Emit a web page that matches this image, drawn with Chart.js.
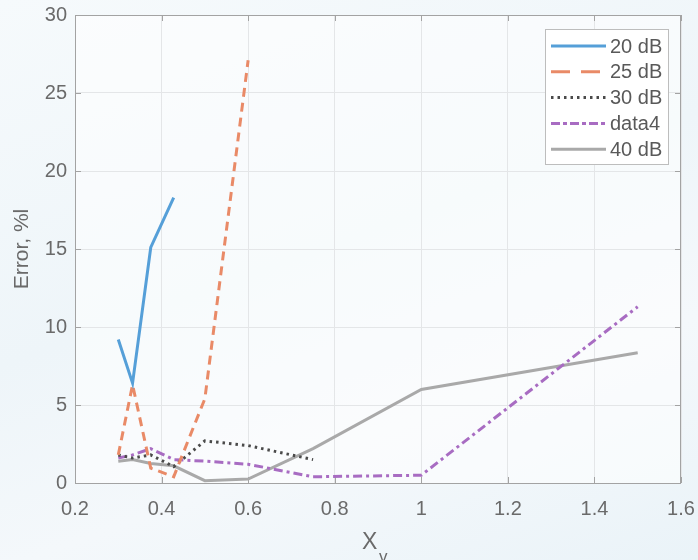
<!DOCTYPE html>
<html>
<head>
<meta charset="utf-8">
<script src="https://cdn.jsdelivr.net/npm/chart.js@4/dist/chart.umd.min.js"></script>
<style>
html, body { margin: 0; padding: 0; }
body {
    width: 698px; height: 560px; overflow: hidden;
    background: linear-gradient(160deg, #f6fafc 0%, #eef5f9 45%, #f4f8fb 70%, #eaf3f8 100%);
}
#wrap { position: relative; width: 698px; height: 560px; }
</style>
</head>
<body>
<div id="wrap"><canvas id="errchart" width="698" height="560"></canvas></div>
<script>
// values
var x20 = [0.3, 0.333, 0.375, 0.428];
var y20 = [9.2, 6.4, 15.1, 18.3];

var x25 = [0.3, 0.333, 0.375, 0.428, 0.5, 0.6];
var y25 = [1.8, 6.3, 0.95, 0.4, 5.4, 27.1];

var x30 = [0.3, 0.333, 0.375, 0.428, 0.5, 0.6, 0.75];
var y30 = [1.8, 1.6, 1.8, 1.05, 2.7, 2.4, 1.5];

var xData4 = [0.3, 0.333, 0.375, 0.428, 0.5, 0.6, 0.75, 1.0, 1.5];
var yData4 = [1.6, 1.8, 2.2, 1.5, 1.4, 1.2, 0.4, 0.5, 11.3];

var x40 = [0.3, 0.333, 0.375, 0.428, 0.5, 0.6, 0.75, 1.0, 1.5];
var y40 = [1.4, 1.5, 1.25, 1.1, 0.15, 0.25, 2.2, 6.0, 8.35];

var seriesNames = ['20 dB', '25 dB', '30 dB', 'data4', '40 dB'];
var xTicks = [0.2, 0.4, 0.6, 0.8, 1, 1.2, 1.4, 1.6];
var yTicks = [0, 5, 10, 15, 20, 25, 30];

function pts(xs, ys){
    var out = [];
    for (var k = 0; k < xs.length; k++) out.push({x: xs[k], y: ys[k]});
    return out;
}

var FONT = '"Liberation Sans", Arial, sans-serif';
var AXIS = '#a3a3a3';
var TXT = '#6a6a6a';
// legend sample dashes are drawn longer than in the plot, like the original
var legendDash = [[], [19, 11], [2.5, 4], [9, 3, 4, 3], []];

// white-ish plot area, inward ticks, legend inside the box, subscript x label
var decor = {
    id: 'decor',
    beforeDraw: function(chart){
        var c = chart.ctx, a = chart.chartArea;
        c.save();
        c.fillStyle = 'rgba(255,255,255,0.55)';
        c.fillRect(a.left, a.top, a.right - a.left, a.bottom - a.top);
        c.restore();
    },
    beforeDatasetsDraw: function(chart){
        var c = chart.ctx, a = chart.chartArea;
        c.save();
        c.strokeStyle = AXIS;
        c.lineWidth = 1;
        c.strokeRect(a.left + 0.5, a.top + 0.5, a.right - a.left - 1, a.bottom - a.top);
        var xs = chart.scales.x, ys = chart.scales.y;
        c.beginPath();
        xTicks.forEach(function(v){
            var p = Math.round(xs.getPixelForValue(v)) + 0.5;
            c.moveTo(p, a.bottom); c.lineTo(p, a.bottom - 6);
            c.moveTo(p, a.top); c.lineTo(p, a.top + 6);
        });
        yTicks.forEach(function(v){
            var p = Math.round(ys.getPixelForValue(v)) + 0.5;
            c.moveTo(a.left, p); c.lineTo(a.left + 6, p);
            c.moveTo(a.right, p); c.lineTo(a.right - 6, p);
        });
        c.stroke();
        c.restore();
    },
    afterDraw: function(chart){
        var c = chart.ctx;
        c.save();
        // legend
        var bx = 545, by = 29, bw = 123, bh = 135;
        c.fillStyle = '#ffffff';
        c.fillRect(bx, by, bw, bh);
        c.strokeStyle = '#bdbdbd';
        c.lineWidth = 1;
        c.strokeRect(bx + 0.5, by + 0.5, bw, bh);
        chart.data.datasets.forEach(function(ds, k){
            var yy = 46 + k * 25.8;
            c.beginPath();
            c.setLineDash(legendDash[k]);
            c.strokeStyle = ds.borderColor;
            c.lineWidth = ds.borderWidth;
            c.moveTo(551, yy); c.lineTo(606, yy);
            c.stroke();
            c.setLineDash([]);
            c.fillStyle = '#595959';
            c.font = '20px ' + FONT;
            c.textBaseline = 'middle';
            c.textAlign = 'left';
            c.fillText(ds.label, 610, yy + 1);
        });
        // x title with subscript
        c.fillStyle = TXT;
        c.textBaseline = 'alphabetic';
        c.textAlign = 'left';
        c.font = '23px ' + FONT;
        c.fillText('X', 362, 549);
        c.font = '17px ' + FONT;
        c.fillText('v', 379, 562);
        c.restore();
    }
};

var ctx = document.getElementById('errchart').getContext('2d');
var errchart = new Chart(ctx, {
    type: 'line',
    data: {
        datasets: [{
            label: seriesNames[0],
            data: pts(x20, y20),
            borderColor: '#559fd8',
            borderWidth: 3
        }, {
            label: seriesNames[1],
            data: pts(x25, y25),
            borderColor: '#e98a67',
            borderWidth: 3,
            borderDash: [9, 6]
        }, {
            label: seriesNames[2],
            data: pts(x30, y30),
            borderColor: '#4a4a4a',
            borderWidth: 3,
            borderDash: [2.5, 4]
        }, {
            label: seriesNames[3],
            data: pts(xData4, yData4),
            borderColor: '#a86cc2',
            borderWidth: 3,
            borderDash: [9, 4, 3, 4]
        }, {
            label: seriesNames[4],
            data: pts(x40, y40),
            borderColor: '#a9a9a9',
            borderWidth: 3
        }]
    },
    options: {
        responsive: false,
        animation: false,
        elements: {
            point: { radius: 0 },
            line: { tension: 0, fill: false, borderCapStyle: 'butt' }
        },
        layout: { padding: { top: 15, right: 17, left: 0, bottom: 0 } },
        plugins: {
            legend: { display: false },
            tooltip: { enabled: false }
        },
        scales: {
            x: {
                type: 'linear',
                min: 0.2, max: 1.6,
                afterBuildTicks: function(s){ s.ticks = xTicks.map(function(v){ return {value: v}; }); },
                afterFit: function(s){ s.height = 77; s.paddingLeft = 0; s.paddingRight = 0; },
                grid: { color: '#e4e6e8', drawTicks: false },
                border: { display: false },
                ticks: {
                    padding: 14,
                    color: TXT,
                    font: { family: FONT, size: 20 },
                    maxRotation: 0,
                    callback: function(v){ return String(Number(v.toFixed(1))); }
                }
            },
            y: {
                min: 0, max: 30,
                afterBuildTicks: function(s){ s.ticks = yTicks.map(function(v){ return {value: v}; }); },
                afterFit: function(s){ s.width = 75; s.paddingTop = 0; s.paddingBottom = 0; },
                grid: { color: '#e4e6e8', drawTicks: false },
                border: { display: false },
                ticks: {
                    padding: 8,
                    color: TXT,
                    font: { family: FONT, size: 20 }
                },
                title: {
                    display: true,
                    text: 'Error, %l',
                    color: TXT,
                    font: { family: FONT, size: 21 },
                    padding: { top: 10, bottom: 0 }
                }
            }
        }
    },
    plugins: [decor]
});
</script>
</body>
</html>
